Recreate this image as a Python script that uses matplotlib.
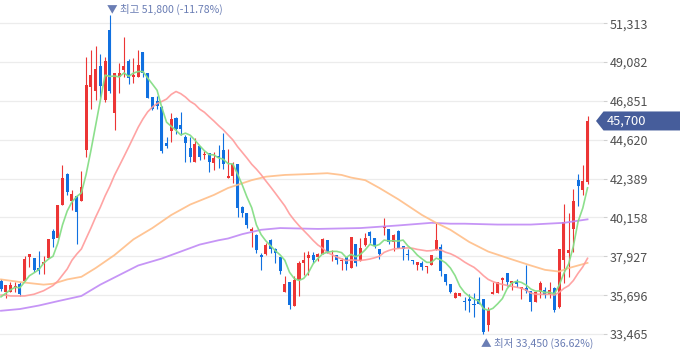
import numpy as np
import pandas as pd
import matplotlib
matplotlib.use("Agg")
import matplotlib.pyplot as plt
from matplotlib.patches import Polygon

# daily candles, oldest first
opens = [36500, 35900, 35900, 36150, 36350, 36500, 37900, 37850, 37250, 37500,
         37850, 39400, 39000, 40850, 42650, 41100, 41400, 41100, 44050, 47650,
         47400, 48850, 46900, 50900, 46150, 48250, 48650, 49150, 48250, 48250,
         49650, 48450, 47100, 46850, 46500, 44450, 45100, 45850, 45450, 44800,
         44150, 43350, 44250, 43750, 43850, 43300, 43700, 44050, 42400, 42550,
         43250, 40750, 40400, 39400, 39150, 38000, 38050, 38850, 38350, 37900,
         35900, 36450, 35050, 36550, 37550, 37850, 38000, 37900, 38050, 38850,
         38150, 38000, 37650, 37900, 37250, 38650, 37650, 38600, 39300, 39000,
         38350, 39550, 39500, 38750, 39400, 38500, 38050, 37700, 37450, 37550,
         37300, 37450, 38300, 38450, 36900, 36350, 35550, 35650, 35350, 35500,
         35200, 35500, 35500, 34000, 35750, 35800, 36550, 36950, 36400, 36500,
         36050, 36100, 35950, 35300, 35900, 36000, 35750, 36100, 35000, 37700,
         38100, 39500, 42300, 41750, 42200]
highs = [36600, 36300, 36450, 36450, 36450, 37950, 38050, 37850, 38250, 37950,
         38900, 39500, 40850, 43150, 42700, 41750, 41400, 42850, 49350, 49800,
         50000, 49550, 49350, 51800, 48450, 49050, 50500, 49250, 49300, 49800,
         49650, 48450, 47100, 47150, 46550, 44800, 46150, 45950, 46200, 44900,
         44800, 44700, 44250, 43950, 43850, 43900, 44300, 45000, 44100, 43350,
         43250, 40800, 40400, 39600, 39200, 38100, 38700, 38900, 38400, 37900,
         36800, 36450, 36800, 37650, 38150, 38250, 38150, 38100, 39000, 38850,
         38300, 38000, 37850, 37900, 39050, 38650, 39000, 39250, 39400, 39000,
         38350, 40150, 39500, 39200, 39450, 38500, 38350, 37700, 37600, 37650,
         37350, 38000, 39850, 38650, 36900, 36350, 35900, 35800, 35600, 35750,
         35800, 36750, 35500, 35000, 36450, 36450, 36750, 36950, 36500, 36600,
         36150, 37450, 35950, 35950, 36500, 36150, 36450, 36150, 38350, 40950,
         40400, 41800, 42650, 43150, 46000]
lows = [35950, 35550, 35900, 35900, 35650, 36500, 37300, 37050, 36900, 36900,
        37850, 38450, 39000, 40850, 41450, 40600, 38650, 41100, 43650, 46400,
        46900, 47100, 46800, 47300, 45200, 47300, 48250, 47800, 47900, 48250,
        48250, 47000, 46350, 46400, 43850, 44150, 44500, 44950, 44900, 43350,
        43350, 43350, 43450, 43500, 42750, 42900, 43000, 42950, 42400, 42150,
        40200, 40200, 39550, 38450, 38100, 37150, 38000, 38100, 37550, 36900,
        35900, 34900, 35050, 35650, 36850, 36850, 37550, 37650, 38050, 38100,
        37650, 37500, 37150, 37150, 37250, 37350, 37650, 38500, 38700, 38400,
        37750, 39150, 38650, 38250, 38400, 37700, 37700, 37500, 37150, 37150,
        36950, 37450, 38300, 36800, 36300, 35800, 35550, 35650, 34850, 34750,
        34450, 35200, 33450, 33650, 35750, 35800, 36000, 36200, 36000, 36150,
        35500, 35800, 34800, 35300, 35550, 35550, 35550, 34750, 34950, 36400,
        36750, 38150, 40800, 41450, 42100]
closes = [36050, 36300, 36300, 36200, 35750, 37750, 38050, 37150, 37100, 37600,
          38900, 38900, 40850, 42400, 41600, 41500, 40450, 41900, 47750, 48350,
          48700, 47700, 49150, 47400, 48450, 48450, 48850, 48150, 48350, 48900,
          48450, 47000, 46400, 46550, 43950, 44250, 45800, 45250, 45250, 44450,
          43650, 44400, 43650, 43800, 43350, 43550, 43550, 43250, 42550, 43250,
          40700, 40400, 39750, 39500, 38300, 37900, 38600, 38350, 38100, 37100,
          36350, 35150, 36550, 37550, 37700, 38000, 37700, 38050, 38900, 38150,
          38250, 37700, 37700, 37500, 39050, 37550, 38400, 39000, 39100, 38500,
          38050, 39650, 38750, 39150, 38400, 38350, 38000, 37650, 37600, 37300,
          37350, 38000, 38850, 37100, 36450, 35900, 35800, 35800, 35300, 35350,
          35150, 35200, 33600, 34850, 35900, 36450, 36700, 36450, 36500, 36350,
          36150, 35950, 35300, 35900, 36400, 35700, 36000, 34850, 38350, 39900,
          38300, 41100, 41950, 42250, 45700]

# moving-average values before the window fills
ma5_head = [35600, 35800, 36000, 36150]
ma20_head = [35700, 35700, 35650, 35650, 35650, 35650, 35700, 35750, 35850, 35950,
             36100, 36250, 36500, 36850, 37200, 37700, 38050, 38350, 38950]

# long averages at some candle positions
ma60_idx = [0, 4, 9, 11, 14, 17, 20, 24, 28, 32, 36, 40, 45, 48, 53, 56, 60, 65, 69,
            72, 74, 77, 80, 84, 89, 92, 95, 99, 103, 108, 112, 115, 118, 120, 124]
ma60_val = [36600, 36450, 36300, 36350, 36600, 36750, 37250, 38000, 38900, 39550,
            40300, 40900, 41450, 41850, 42300, 42500, 42600, 42650, 42700, 42600,
            42450, 42300, 41850, 41200, 40300, 39850, 39450, 38750, 38200, 37750,
            37400, 37150, 37050, 37250, 37550]
ma120_idx = [0, 4, 8, 12, 17, 21, 25, 29, 34, 38, 42, 46, 48, 51, 55, 59, 67, 76,
             84, 91, 95, 98, 105, 112, 119, 124]
ma120_val = [34800, 34900, 35100, 35350, 35650, 36300, 36850, 37400, 37800, 38200,
             38600, 38850, 38950, 39200, 39450, 39550, 39500, 39550, 39700, 39850,
             39800, 39800, 39750, 39750, 39850, 40050]

yticks = [33465, 35696, 37927, 40158, 42389, 44620, 46851, 49082, 51313]

plt.rcParams['font.family'] = ['Noto Sans CJK KR', 'DejaVu Sans']

o = np.array(opens)
h = np.array(highs)
l = np.array(lows)
c = np.array(closes)
x = np.arange(len(c))

cs = pd.Series(c, dtype=float)
ma5 = cs.rolling(5).mean().to_numpy()
ma5[:4] = ma5_head
ma20 = cs.rolling(20).mean().to_numpy()
ma20[:19] = ma20_head

fig = plt.figure(figsize=(6.8, 3.58), dpi=100)
ax = fig.add_axes([0, 0, 603 / 680, 1])
ax.set_xlim(-0.21, 127.27)
ax.set_ylim(32087, 52647)

for s in ax.spines.values():
    s.set_visible(False)
ax.set_xticks([])
ax.yaxis.tick_right()
ax.set_yticks(yticks)
ax.set_yticklabels([f"{v:,}" for v in yticks])
ax.tick_params(axis='y', length=3, width=0.8, color='#d0d0d0', pad=2,
               labelsize=9, labelcolor='#505050')
ax.grid(axis='y', color='#ececec', linewidth=0.9, zorder=0)
ax.set_axisbelow(True)

up = c >= o
col = np.where(up, '#ec3535', '#1070e0')
ax.vlines(x, l, h, colors=col, linewidth=0.8, zorder=3)
body_lo = np.minimum(o, c)
body_h = np.maximum(np.abs(c - o), 60)
ax.bar(x, body_h, bottom=body_lo, width=0.64, color=col, linewidth=0, zorder=3)

ax.plot(ma120_idx, ma120_val, color='#c08af5', lw=1.3, alpha=0.9, zorder=4)
ax.plot(ma60_idx, ma60_val, color='#ffbe88', lw=1.3, alpha=0.9, zorder=4)
ax.plot(x, ma20, color='#ff9a9a', lw=1.2, alpha=0.9, zorder=4)
ax.plot(x, ma5, color='#86de86', lw=1.2, alpha=0.95, zorder=4)

# max / min markers
imax = int(np.argmax(h))
imin = int(np.argmin(l))
last = c[-1]
ax.text(imax - 0.6, 52110, f"▼ 최고 {h[imax]:,} ({(last - h[imax]) / h[imax] * 100:.2f}%)",
        ha='left', va='center', fontsize=7.6, color='#6a7db4', zorder=5)
ax.text(imin - 0.6, 32950, f"▲ 최저 {l[imin]:,} ({(last - l[imin]) / l[imin] * 100:.2f}%)",
        ha='left', va='center', fontsize=7.6, color='#6a7db4', zorder=5)

# last price tag
ymin, ymax = ax.get_ylim()
yc = (last - ymin) / (ymax - ymin)
hh = 9.5 / 358
tag = Polygon([(596 / 680, yc), (603.5 / 680, yc + hh), (680 / 680, yc + hh),
               (680 / 680, yc - hh), (603.5 / 680, yc - hh)],
              closed=True, transform=fig.transFigure, facecolor='#465d9b',
              edgecolor='none', zorder=6)
fig.add_artist(tag)
fig.text(607 / 680, yc, f"{last:,}", ha='left', va='center', fontsize=9.3,
         color='white', zorder=7)

fig.savefig('out.png', dpi=100)
